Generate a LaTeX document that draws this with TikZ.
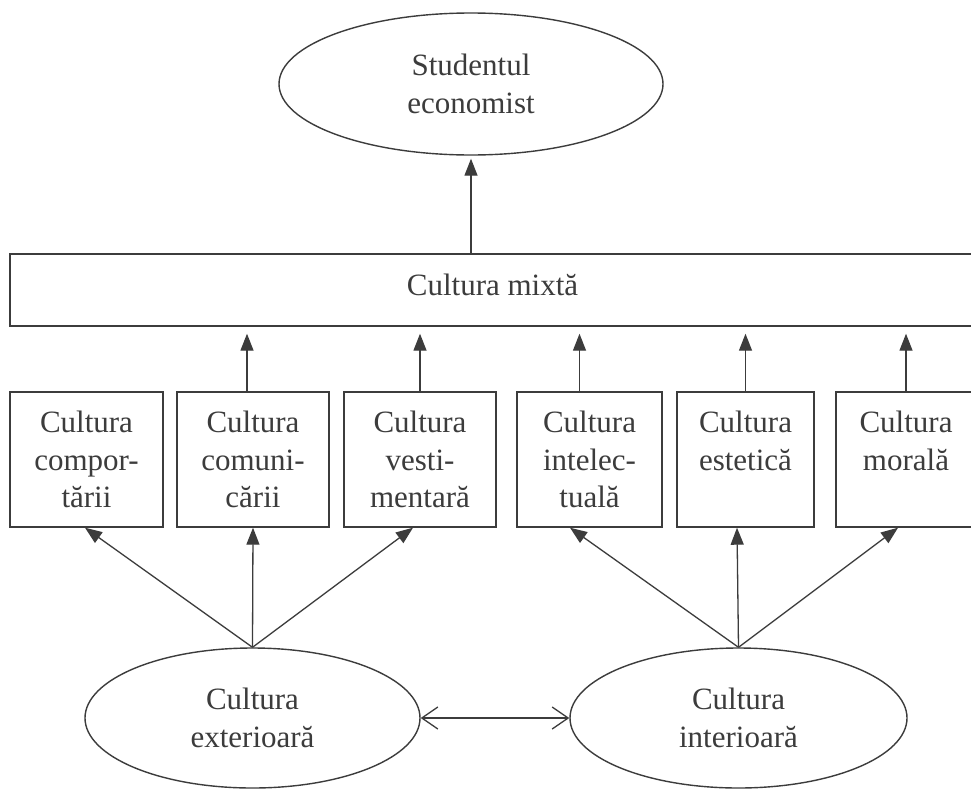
\documentclass[tikz,border=0pt]{standalone}
\usepackage{fontspec}
\setmainfont{Liberation Serif}
\usetikzlibrary{arrows.meta,shapes.geometric}
\definecolor{ink}{HTML}{3C3C3C}
\begin{document}
\begin{tikzpicture}[x=1pt,y=-1pt,
  every node/.style={font=\fontsize{31}{37.5}\selectfont, text=ink},
  outline/.style={draw=ink, line width=1.4pt},
  oval/.style={outline, ellipse, inner sep=0pt, align=center},
  cbox/.style={outline, rectangle, minimum height=135pt, inner sep=0pt, align=center},
  arr/.style={draw=ink, line width=1.3pt, -{Triangle[length=17pt,width=13pt]}},
  dbl/.style={draw=ink, line width=1.3pt, {Straight Barb[length=16pt,width=22pt]}-{Straight Barb[length=16pt,width=22pt]}}
]
\useasboundingbox (0,0) rectangle (971,790);
\fill[white] (0,0) rectangle (971,790);
\clip (0,0) rectangle (971,790);

% top ellipse
\node[oval, minimum width=384pt, minimum height=142pt] (stud) at (471,84) {Studentul\\economist};

% mixed culture bar
\node[outline, rectangle, minimum width=965pt, minimum height=72pt, inner sep=0pt,
      text height=21pt, text depth=10pt] (mix) at (492.5,290) {Cultura mixtă};

% boxes
\node[cbox, minimum width=153pt] (b1) at (86.5,459.5) {Cultura\\compor-\\tării};
\node[cbox, minimum width=152pt] (b2) at (253,459.5) {Cultura\\comuni-\\cării};
\node[cbox, minimum width=152pt] (b3) at (420,459.5) {Cultura\\vesti-\\mentară};
\node[cbox, minimum width=145pt] (b4) at (589.5,459.5) {Cultura\\intelec-\\tuală};
\node[cbox, minimum width=137pt] (b5) at (745.5,459.5) {Cultura\\estetică\\\mbox{}};
\node[cbox, minimum width=140pt] (b6) at (906,459.5) {Cultura\\morală\\\mbox{}};

% bottom ellipses
\node[oval, minimum width=335pt, minimum height=140pt] (e1) at (252.5,718) {Cultura\\exterioară};
\node[oval, minimum width=337pt, minimum height=140pt] (e2) at (738.5,718) {Cultura\\interioară};

% arrows up
\draw[arr, shorten >=3pt] (mix.north -| stud.south) -- (stud.south);
\draw[arr, shorten >=7pt] ([xshift=-6pt]b2.north) -- ([xshift=-6pt]b2.north |- mix.south);
\draw[arr, shorten >=7pt] (b3.north) -- (b3.north |- mix.south);
\draw[arr, shorten >=7pt] ([xshift=-10pt]b4.north) -- ([xshift=-10pt]b4.north |- mix.south);
\draw[arr, shorten >=7pt] (b5.north) -- (b5.north |- mix.south);
\draw[arr, shorten >=7pt] (b6.north) -- (b6.north |- mix.south);

% fan arrows
\draw[arr] (e1.north) -- ([xshift=-1.5pt]b1.south);
\draw[arr] (e1.north) -- (b2.south);
\draw[arr] (e1.north) -- ([xshift=-7pt]b3.south);
\draw[arr] (e2.north) -- ([xshift=-19.5pt]b4.south);
\draw[arr] (e2.north) -- ([xshift=-8.5pt]b5.south);
\draw[arr] (e2.north) -- ([xshift=-8pt]b6.south);

% double arrow
\draw[dbl] (e1.east) -- (e2.west);
\end{tikzpicture}
\end{document}
